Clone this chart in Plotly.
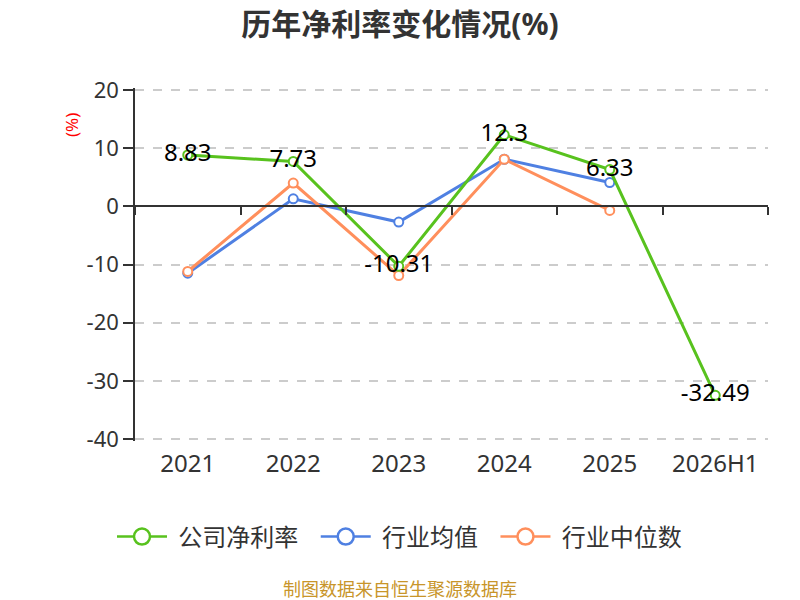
import plotly.graph_objects as go

# categories and series
years = ["2021", "2022", "2023", "2024", "2025", "2026H1"]
company = [8.83, 7.73, -10.31, 12.3, 6.33, -32.49]
industry_avg = [-11.5, 1.3, -2.7, 8.1, 4.1, None]
industry_median = [-11.2, 4.0, -11.9, 8.1, -0.7, None]
company_labels = ["8.83", "7.73", "-10.31", "12.3", "6.33", "-32.49"]
y_ticks = [-40, -30, -20, -10, 0, 10, 20]
y_ticktext = ["-40", "-30", "-20", "-10", "0", "10", "20"]
series_names = ["公司净利率", "行业均值", "行业中位数"]

GREEN = "#58c21e"
BLUE = "#4f80e2"
ORANGE = "#ff8f5c"
COLORS = [GREEN, BLUE, ORANGE]
FONT = "Noto Sans, Noto Sans CJK SC, sans-serif"

# page has an 8px body margin, so the figure is offset by 8px
L, T = 127, 80
PW, PH = 633, 353
PAD = 0.35  # a little slack so the 20 / -40 grid lines are kept

fig = go.Figure()

fig.add_trace(go.Scatter(
    x=years, y=company, name=series_names[0], showlegend=False,
    mode="lines+markers+text",
    text=company_labels,
    textposition="middle center",
    textfont=dict(size=24, color="#000000", family=FONT),
    line=dict(color=GREEN, width=3),
    marker=dict(size=9, color="white", line=dict(color=GREEN, width=2)),
    xaxis="x2",
))
fig.add_trace(go.Scatter(
    x=years, y=industry_avg, name=series_names[1], showlegend=False,
    mode="lines+markers",
    line=dict(color=BLUE, width=3),
    marker=dict(size=9, color="white", line=dict(color=BLUE, width=2)),
))
fig.add_trace(go.Scatter(
    x=years, y=industry_median, name=series_names[2], showlegend=False,
    mode="lines+markers",
    line=dict(color=ORANGE, width=3),
    marker=dict(size=9, color="white", line=dict(color=ORANGE, width=2)),
))

# legend entries with the larger hollow circle of the reference
for name, color in zip(series_names, COLORS):
    fig.add_trace(go.Scatter(
        x=[None], y=[None], name="\u00a0" + name + "\u00a0\u00a0",
        mode="lines+markers",
        line=dict(color=color, width=2.5),
        marker=dict(size=16, color="white", line=dict(color=color, width=2.5)),
    ))

fig.update_layout(
    width=800, height=600,
    paper_bgcolor="white", plot_bgcolor="white",
    margin=dict(l=L, r=800 - L - PW, t=T, b=600 - T - PH),
    font=dict(family=FONT, size=22, color="#333333"),
    title=dict(
        text="<b>历年净利率变化情况(%)</b>",
        x=392 / 800, xanchor="center", y=1 - 16 / 600, yanchor="middle",
        font=dict(size=30, color="#333333", family=FONT),
    ),
    xaxis=dict(
        type="category", categoryarray=years, range=[-0.5, 5.5],
        showline=False, showgrid=False, zeroline=False, ticks="",
        tickfont=dict(size=24, color="#333333"),
        ticklabelstandoff=6,
    ),
    xaxis2=dict(
        type="category", categoryarray=years, range=[-0.5, 5.5],
        overlaying="x", anchor="free", position=(40 + PAD) / (60 + 2 * PAD),
        tickson="boundaries",
        showticklabels=False, showgrid=False, zeroline=False,
        showline=True, linecolor="#333333", linewidth=1.5,
        ticks="outside", ticklen=8, tickwidth=1.5, tickcolor="#333333",
    ),
    yaxis=dict(
        range=[-40 - PAD, 20 + PAD], tickvals=y_ticks, ticktext=y_ticktext,
        showline=True, linecolor="#333333", linewidth=1.5,
        ticks="outside", ticklen=10, tickwidth=1.5, tickcolor="#333333",
        showgrid=True, gridcolor="#cccccc", griddash="dash", gridwidth=1.5,
        zeroline=False,
        tickfont=dict(size=22, color="#333333"),
    ),
    legend=dict(
        orientation="h", x=(398 - L) / PW, xanchor="center",
        y=-96 / PH, yanchor="middle",
        font=dict(size=24, color="#333333"),
        itemwidth=50,
    ),
    showlegend=True,
)

fig.add_annotation(
    text="(%)", textangle=-90, xref="paper", yref="paper",
    x=-63 / PW, y=316 / PH, xanchor="center", yanchor="middle",
    showarrow=False,
    font=dict(size=17, color="#ff0000", family=FONT),
)
fig.add_annotation(
    text="制图数据来自恒生聚源数据库", xref="paper", yref="paper",
    x=(392 - L) / PW, y=-148 / PH, xanchor="center", yanchor="middle",
    showarrow=False,
    font=dict(size=18, color="#c8952a", family=FONT),
)

fig.write_html("out.html")
